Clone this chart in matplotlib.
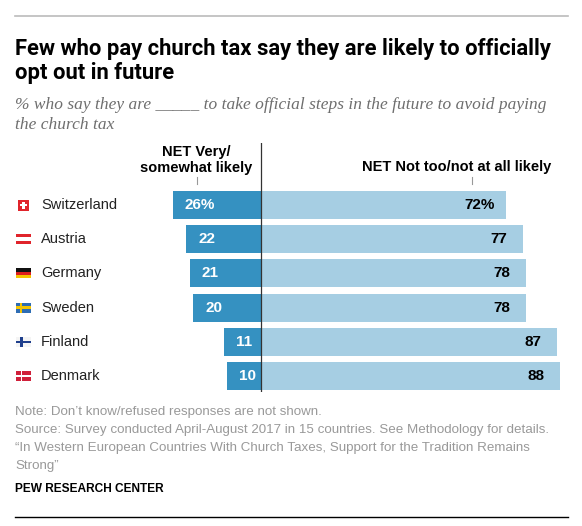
import matplotlib.pyplot as plt
from matplotlib.patches import Rectangle

countries = ["Switzerland", "Austria", "Germany", "Sweden", "Finland", "Denmark"]
likely = [26, 22, 21, 20, 11, 10]
not_likely = [72, 77, 78, 78, 87, 88]

DARK = "#3591c1"
LIGHT = "#a6cee3"
GRAY = "#999999"

W, H = 582, 526
fig = plt.figure(figsize=(W / 100, H / 100), dpi=100)
plt.rcParams['font.family'] = ['Liberation Sans', 'DejaVu Sans']
TITLE_FONT = ["Roboto", "DejaVu Sans"]


def fx(px):
    return px / W


def fy(py):
    return 1 - py / H


# bar axes, placed in pixel units
ax_l, ax_r, ax_t, ax_b = 150, 575, 143, 392
ax = fig.add_axes([fx(ax_l), fy(ax_b), (ax_r - ax_l) / W, (ax_b - ax_t) / H])
zero_px, unit_px = 261, 3.4
row0, row_step = 205, 34.2
ax.set_xlim((ax_l - zero_px) / unit_px, (ax_r - zero_px) / unit_px)
ax.set_ylim(5 + (ax_b - row0 - 5 * row_step) / row_step, -(row0 - ax_t) / row_step)
ax.axis("off")

ys = list(range(len(countries)))
ax.barh(ys, [-v for v in likely], height=0.82, color=DARK)
ax.barh(ys, not_likely, height=0.82, color=LIGHT)
ax.axvline(0, color="#333333", lw=0.9)

for i, (a, b) in enumerate(zip(likely, not_likely)):
    sa = f"{a}%" if i == 0 else str(a)
    sb = f"{b}%" if i == 0 else str(b)
    ax.text(-a + 3.6, i, sa, color="white", fontsize=11, fontweight="bold",
            ha="left", va="center")
    ax.text(b - 4.6 + (1.4 if i == 0 else 0), i, sb, color="black", fontsize=11,
            fontweight="bold", ha="right", va="center")

# small header ticks
ax.plot([-18.8, -18.8], [-0.82, -0.6], color="#999999", lw=0.8)
ax.plot([62, 62], [-0.82, -0.6], color="#999999", lw=0.8)

# headers
fig.text(fx(196), fy(160), "NET Very/\nsomewhat likely", fontsize=10.5, fontweight="bold",
         ha="center", va="center", linespacing=1.1)
fig.text(fx(457), fy(167), "NET Not too/not at all likely", fontsize=10.5,
         fontweight="bold", ha="center", va="center")

# country labels
for i, c in enumerate(countries):
    fig.text(fx(41), fy(row0 + i * row_step), c, fontsize=10.5, ha="left", va="center",
             color="#222222")


# flags
def rect(x, y, w, h, color):
    fig.add_artist(Rectangle((fx(x), fy(y + h)), w / W, h / H, color=color,
                             transform=fig.transFigure, lw=0))


def flag(name, cy):
    if name == "Switzerland":
        x, y = 18, cy - 5.5
        rect(x, y, 11, 11, "#e0242b")
        rect(x + 4.3, y + 2, 2.4, 7, "white")
        rect(x + 2, y + 4.3, 7, 2.4, "white")
        return
    x, y, w, h = 16, cy - 5, 15, 10
    if name == "Austria":
        rect(x, y, w, h, "#e0242b")
        rect(x, y + 3.3, w, 3.4, "white")
    elif name == "Germany":
        rect(x, y, w, h / 3, "#111111")
        rect(x, y + h / 3, w, h / 3, "#dd1d1d")
        rect(x, y + 2 * h / 3, w, h / 3, "#f5c400")
    elif name == "Sweden":
        rect(x, y, w, h, "#2e6db4")
        rect(x + 4, y, 2.4, h, "#f5c400")
        rect(x, y + 3.8, w, 2.4, "#f5c400")
    elif name == "Finland":
        rect(x, y, w, h, "#f4f4f4")
        rect(x + 4, y, 2.6, h, "#1f3f8c")
        rect(x, y + 3.7, w, 2.6, "#1f3f8c")
    elif name == "Denmark":
        rect(x, y, w, h, "#d0203a")
        rect(x + 4.5, y, 1.8, h, "white")
        rect(x, y + 4.1, w, 1.8, "white")


for i, c in enumerate(countries):
    flag(c, row0 + i * row_step)

# title / subtitle
fig.add_artist(plt.Line2D([fx(15), fx(568)], [fy(16), fy(16)], color="#bbbbbb", lw=1.2))
fig.text(fx(15), fy(79), "Few who pay church tax say they are likely to officially\nopt out in future",
         fontsize=15.8, fontweight="bold", family=TITLE_FONT,
         ha="left", va="baseline", linespacing=1.12)
fig.text(fx(15), fy(129), "% who say they are _____ to take official steps in the future to avoid paying\nthe church tax",
         fontsize=12.5, style="italic", family=["Liberation Serif", "DejaVu Serif"],
         color="#6e6e6e", ha="left", va="baseline", linespacing=1.3)

# notes
notes = ("Note: Don\u2019t know/refused responses are not shown.\n"
         "Source: Survey conducted April-August 2017 in 15 countries. See Methodology for details.\n"
         "\u201cIn Western European Countries With Church Taxes, Support for the Tradition Remains\n"
         "Strong\u201d")
fig.text(fx(15), fy(406), notes, fontsize=9.6, color=GRAY, ha="left", va="top",
         linespacing=1.68)
fig.text(fx(15), fy(489), "PEW RESEARCH CENTER", fontsize=8.6, fontweight="bold",
         ha="left", va="center")
fig.add_artist(plt.Line2D([fx(15), fx(568)], [fy(517), fy(517)], color="black", lw=1))

fig.savefig("out.png", dpi=100)
